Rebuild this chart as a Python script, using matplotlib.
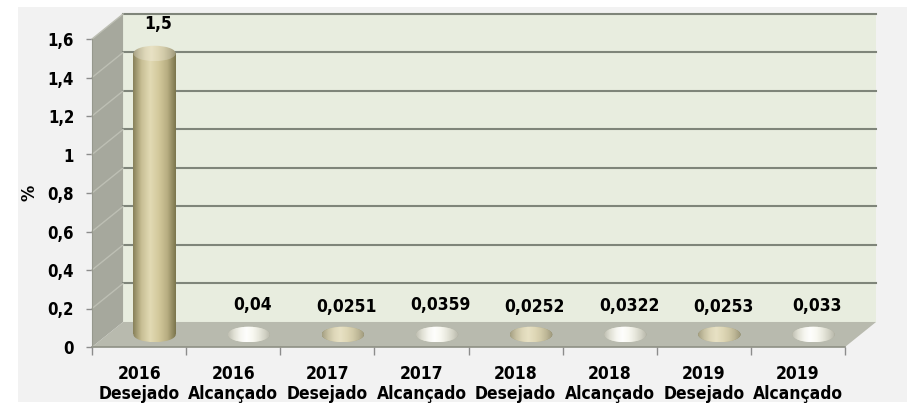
import matplotlib
matplotlib.use('Agg')
import matplotlib.pyplot as plt
from matplotlib.patches import Rectangle, Polygon, Ellipse
from matplotlib.colors import LinearSegmentedColormap
import numpy as np

years = ['2016', '2016', '2017', '2017', '2018', '2018', '2019', '2019']
kinds = ['Desejado', 'Alcançado', 'Desejado', 'Alcançado',
         'Desejado', 'Alcançado', 'Desejado', 'Alcançado']
values = [1.5, 0.04, 0.0251, 0.0359, 0.0252, 0.0322, 0.0253, 0.033]
value_labels = ['1,5', '0,04', '0,0251', '0,0359', '0,0252', '0,0322', '0,0253', '0,033']
yticks = [0, 0.2, 0.4, 0.6, 0.8, 1.0, 1.2, 1.4, 1.6]
ytick_labels = ['0', '0,2', '0,4', '0,6', '0,8', '1', '1,2', '1,4', '1,6']

plt.rcParams['font.family'] = ['DejaVu Sans']
plt.rcParams['font.stretch'] = 'condensed'
plt.rcParams['font.weight'] = 'bold'

fig = plt.figure(figsize=(9.13, 4.11), dpi=100)
fig.patches.append(Rectangle((18 / 913, 9 / 411), 889 / 913, 395 / 411,
                             transform=fig.transFigure, fc='#f2f2f2', ec='none', zorder=-5))
ax = fig.add_axes([92 / 913, 64 / 411, 753 / 913, 308 / 411])
ax.patch.set_visible(False)
for s in ax.spines.values():
    s.set_visible(False)
ax.set_autoscale_on(False)

n = len(values)
ymax = yticks[-1]
DX, DY = 0.33, 0.13   # depth of the box, in data units
W = 0.45              # cylinder diameter
CAP = 0.08            # height of the elliptical caps

# back wall, side wall and floor
ax.add_patch(Rectangle((DX, DY), n, ymax, fc='#e8eddf', ec='none', zorder=1, clip_on=False))
ax.add_patch(Polygon([(0, 0), (DX, DY), (DX, ymax + DY), (0, ymax)],
                     fc='#a6a89d', ec='none', zorder=1, clip_on=False))
ax.add_patch(Polygon([(0, 0), (n, 0), (n + DX, DY), (DX, DY)],
                     fc='#b8baae', ec='none', zorder=1.5, clip_on=False))
for t in yticks[1:]:
    ax.plot([DX, n + DX], [t + DY, t + DY], color='#7f857a', lw=1.5, zorder=2, clip_on=False)
    ax.plot([0, DX], [t, t + DY], color='#bdbfb4', lw=1.0, zorder=2, clip_on=False)
ax.plot([0, n], [0, 0], color='#8e9085', lw=1.2, zorder=2, clip_on=False)
ax.plot([0, 0], [0, ymax], color='#96988d', lw=0.8, zorder=2, clip_on=False)

tan = LinearSegmentedColormap.from_list(
    'tan', ['#878059', '#c8bf95', '#e2dab4', '#d3c99c', '#b8ae82', '#7a744c'])
pearl = LinearSegmentedColormap.from_list(
    'pearl', ['#a9a998', '#e9e9da', '#ffffff', '#f5f5ea', '#d3d3c2', '#9e9e8c'])


def lighter(cmap, f):
    cols = [np.array(cmap(v)[:3]) * (1 - f) + f for v in np.linspace(0, 1, 8)]
    return LinearSegmentedColormap.from_list(cmap.name + '_l', cols)


grad = np.linspace(0, 1, 256).reshape(1, -1)
centers = np.arange(n) + 0.5 + DX / 2
body_h = [max(v - CAP / 2, 0) for v in values]
bars = ax.bar(centers, body_h, width=W, bottom=DY / 2, color='none', zorder=3)

for i, (b, v) in enumerate(zip(bars, values)):
    cm = tan if kinds[i] == 'Desejado' else pearl
    x0, x1 = b.get_x(), b.get_x() + b.get_width()
    y0, y1 = b.get_y(), b.get_y() + b.get_height()
    # rounded bottom
    bot = Ellipse((centers[i], y0), W, CAP, fc='none', ec='none', zorder=3)
    ax.add_patch(bot)
    im = ax.imshow(grad, cmap=cm, extent=(x0, x1, y0 - CAP / 2, y0 + CAP / 2),
                   aspect='auto', zorder=3, interpolation='bilinear')
    im.set_clip_path(bot)
    # body
    if y1 > y0:
        im = ax.imshow(grad, cmap=cm, extent=(x0, x1, y0, y1),
                       aspect='auto', zorder=3.1, interpolation='bilinear')
        im.set_clip_path(b)
    # top cap
    top = Ellipse((centers[i], y1), W, CAP, fc='none', ec='none', zorder=3.2)
    ax.add_patch(top)
    im = ax.imshow(grad, cmap=lighter(cm, 0.25), extent=(x0, x1, y1 - CAP / 2, y1 + CAP / 2),
                   aspect='auto', zorder=3.2, interpolation='bilinear')
    im.set_clip_path(top)
    ax.annotate(value_labels[i], (centers[i] + 0.04, v + DY / 2), xytext=(0, 16),
                textcoords='offset points', ha='center', va='center',
                fontsize=12.5, fontweight='bold', zorder=5, annotation_clip=False)

ax.set_xlim(0, n)
ax.set_ylim(0, ymax)

ax.set_yticks(yticks, ytick_labels)
ax.tick_params(axis='y', length=4.3, width=1, color='#8c8c8c', pad=8.6, labelsize=12)
ax.set_xticks(range(n + 1), [''] * (n + 1))
ax.set_xticks(np.arange(n) + 0.5, [f'{y}\n{k}' for y, k in zip(years, kinds)], minor=True)
ax.tick_params(axis='x', which='major', length=5.8, width=1, color='#8c8c8c')
ax.tick_params(axis='x', which='minor', length=0, pad=13, labelsize=12.5)
for lbl in ax.get_xticklabels(minor=True):
    lbl.set_linespacing(1.15)

fig.text(29 / 913, 1 - 193 / 411, '%', rotation=90, ha='center', va='center',
         fontsize=13, fontweight='bold')

fig.savefig('out.png', dpi=100)
